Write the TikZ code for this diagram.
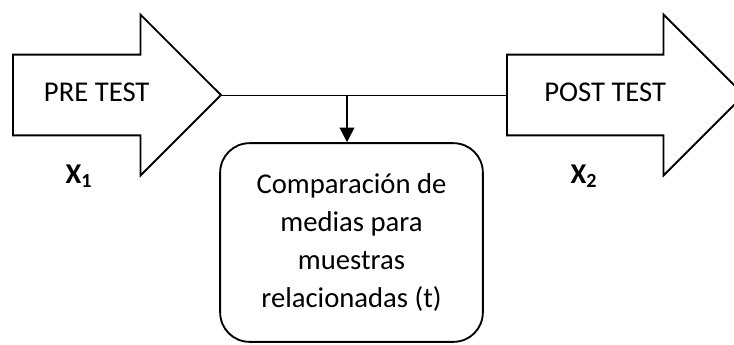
\documentclass[tikz,border=0pt]{standalone}
\usepackage{fontspec}
\setmainfont{Carlito}
\usetikzlibrary{shapes.arrows, arrows.meta, positioning}

\begin{document}
\begin{tikzpicture}[x=0.75pt, y=-0.75pt,
  font=\fontsize{21.5pt}{28.5pt}\selectfont,
  bigarrow/.style={single arrow, draw, line width=1.4pt, minimum height=156pt, text height=15pt, text depth=5pt, inner ysep=19.6pt, single arrow head extend=30pt, anchor=tail},
  resultbox/.style={rectangle, rounded corners=22pt, draw, line width=1.4pt, minimum width=197pt, minimum height=149pt, align=center},
  arrow/.style={-{Triangle[width=11pt, length=11pt]}, line width=1.1pt}
]
  \useasboundingbox (0,0) rectangle (734,344);
  \clip (0,0) rectangle (734,344);

  \node[bigarrow] (pre) at (12,95) {PRE TEST};
  \node[bigarrow, minimum height=177.75pt] (post) at (506,95) {POST TEST};

  \node[resultbox] (comp) at (351.5,242.5) {Comparación de\\medias para\\muestras\\relacionadas (t)};

  \node (x1) at (79,176) {\textbf{X\textsubscript{1}}};
  \node (x2) at (584,176) {\textbf{X\textsubscript{2}}};

  \coordinate (split) at (347,95);
  \draw[line width=0.75pt] (pre.tip) -- (post.tail);
  \draw[arrow] (split) -- (split |- comp.north);
\end{tikzpicture}
\end{document}
